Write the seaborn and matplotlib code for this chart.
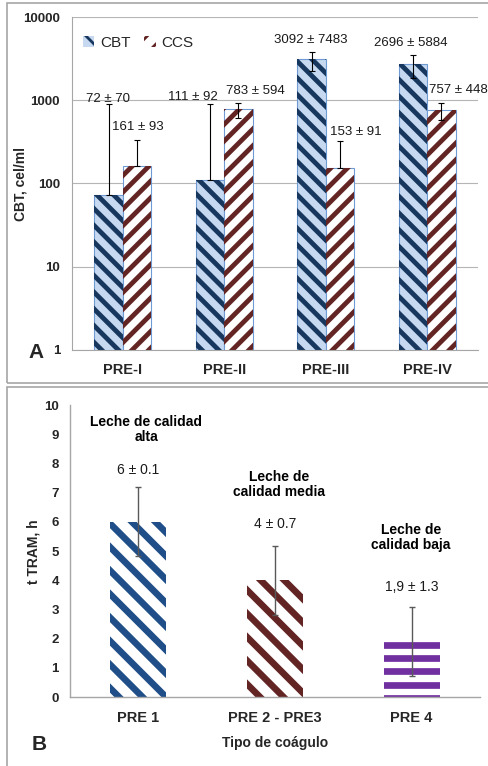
import numpy as np
import pandas as pd
import matplotlib
matplotlib.use('Agg')
import matplotlib.pyplot as plt
import seaborn as sns
from matplotlib import font_manager
from matplotlib.collections import LineCollection
from matplotlib.transforms import IdentityTransform, Bbox
from matplotlib.patches import Patch, Rectangle
from matplotlib.ticker import NullFormatter, NullLocator

# ---- panel A: recuentos por grupo ----
grupos = ['PRE-I', 'PRE-II', 'PRE-III', 'PRE-IV']
cbt = [72, 111, 3092, 2696]
ccs = [161, 783, 153, 757]
# extremos de las barras de error tal como se ven en la figura
cbt_lo = [72, 111, 2230, 1840]
cbt_hi = [900, 910, 3800, 3480]
ccs_lo = [161, 610, 153, 580]
ccs_hi = [330, 920, 320, 920]
cbt_txt = ['72 ± 70', '111 ± 92', '3092 ± 7483', '2696 ± 5884']
ccs_txt = ['161 ± 93', '783 ± 594', '153 ± 91', '757 ± 448']

# ---- panel B: tiempo de reduccion ----
coagulo = ['PRE 1', 'PRE 2 - PRE3', 'PRE 4']
tram = [6, 4, 1.9]
tram_err = [1.18, 1.18, 1.18]
tram_txt = ['6 ± 0.1', '4 ± 0.7', '1,9 ± 1.3']
calidad = ['Leche de calidad\nalta', 'Leche de\ncalidad media', 'Leche de\ncalidad baja']

# desplazamientos de las etiquetas (px)
cbt_off = [(-1, 5), (-17, 7), (-1, 12), (-2, 12)]
ccs_off = [(1, 13), (17, 12), (16, 9), (17, 13)]
tram_off = [17, 22, 20]
cal_off = [(8, 58), (4, 61), (-1, 70)]

sns.set_style('white')
plt.rcParams['font.family'] = ['Liberation Sans', 'DejaVu Sans']
plt.rcParams['hatch.linewidth'] = 2.0

nombres = {f.name for f in font_manager.fontManager.ttflist}
if 'Liberation Sans Narrow' in nombres:
    NARROW, NSIZE = ['Liberation Sans Narrow', 'Liberation Sans'], 11.5
else:
    NARROW, NSIZE = ['Liberation Sans', 'DejaVu Sans'], 10

W, H = 488, 766
fig = plt.figure(figsize=(W / 100, H / 100), dpi=100)


def rect(l, t, r, b):
    return [l / W, 1 - b / H, (r - l) / W, (b - t) / H]


def px(v):
    return v * 72 / fig.dpi


axA = fig.add_axes(rect(72, 17, 478, 350))
axB = fig.add_axes(rect(70, 405, 480, 697))

GRIS = '#a6a6a6'

# marcos de los paneles
fig.add_artist(Rectangle((7 / W, 1 - 383 / H), (W - 2) / W, 380 / H,
                         transform=fig.transFigure, fill=False, ec=GRIS, lw=1.2))
fig.add_artist(Rectangle((7 / W, -0.01), (W - 2) / W, 1 - 387 / H + 0.01,
                         transform=fig.transFigure, fill=False, ec=GRIS, lw=1.2))

# ================= panel A =================
df_a = pd.DataFrame({'grupo': grupos * 2, 'valor': cbt + ccs,
                     'serie': ['CBT'] * 4 + ['CCS'] * 4})
axA.set_yscale('log')
sns.barplot(data=df_a, x='grupo', y='valor', hue='serie', ax=axA,
            palette={'CBT': '#c6d9f1', 'CCS': 'white'}, saturation=1,
            width=0.56, errorbar=None, edgecolor='#6f9bd4', linewidth=0.8,
            legend=False)
axA.set_ylim(1, 10000)
axA.set_xlim(-0.5, 3.5)

series_a = [(axA.containers[0], cbt, cbt_lo, cbt_hi, cbt_txt, cbt_off),
            (axA.containers[1], ccs, ccs_lo, ccs_hi, ccs_txt, ccs_off)]
for cont, vals, lo, hi, txt, off in series_a:
    xs = [p.get_x() + p.get_width() / 2 for p in cont]
    v = np.array(vals, dtype=float)
    yerr = [v - np.array(lo), np.array(hi) - v]
    axA.errorbar(xs, v, yerr=yerr, fmt='none', ecolor='black',
                 elinewidth=0.8, capsize=2.1, capthick=0.8, zorder=3)
    for x, h, t, (dx, dy) in zip(xs, hi, txt, off):
        axA.annotate(t, xy=(x, h), xytext=(px(dx), px(dy)), textcoords='offset points',
                     ha='center', va='center', fontsize=9.5, color='#1a1a1a',
                     annotation_clip=False)

axA.set_yticks([1, 10, 100, 1000, 10000])
axA.set_yticklabels(['1', '10', '100', '1000', '10000'], fontweight='bold', fontsize=9.5)
axA.yaxis.set_minor_locator(NullLocator())
axA.set_xticks([-0.5, 0.5, 1.5, 2.5, 3.5])
axA.xaxis.set_major_formatter(NullFormatter())
axA.set_xticks(range(4), grupos, minor=True, fontweight='bold', fontsize=10.5)
axA.tick_params(axis='x', which='major', length=px(5), width=0.8, color=GRIS, direction='out')
axA.tick_params(axis='x', which='minor', length=0, pad=px(13))
axA.tick_params(axis='y', length=px(3), width=0.8, color=GRIS, pad=px(9), direction='out')
axA.yaxis.grid(True, color='#b5b5b5', lw=0.8)
axA.set_axisbelow(True)
axA.set_xlabel('')
axA.set_ylabel('')
for s in ['top', 'right']:
    axA.spines[s].set_visible(False)
for s in ['left', 'bottom']:
    axA.spines[s].set_color(GRIS)
    axA.spines[s].set_linewidth(0.8)

leg = axA.legend(handles=[Patch(facecolor='#c6d9f1', edgecolor='#17375e', hatch='\\\\', lw=0),
                          Patch(facecolor='white', edgecolor='#632523', hatch='//', lw=0)],
                 labels=['CBT', 'CCS'], loc='center left',
                 bbox_to_anchor=((83 - 72) / 406, 1 - (43 - 17) / 333),
                 ncol=2, frameon=False, fontsize=11, borderpad=0, borderaxespad=0,
                 handlelength=0.75, handleheight=0.75, handletextpad=0.35,
                 columnspacing=0.9)

fig.text(21 / W, 1 - 184 / H, 'CBT, cel/ml', rotation=90, ha='center', va='center',
         fontsize=10, fontweight='bold')
fig.text(28 / W, 1 - 358 / H, 'A', ha='left', va='baseline', fontsize=15, fontweight='bold')

# ================= panel B =================
df_b = pd.DataFrame({'tipo': coagulo, 'tram': tram})
sns.barplot(data=df_b, x='tipo', y='tram', ax=axB, color='white', saturation=1,
            width=0.41, errorbar=None, linewidth=0)
axB.set_ylim(0, 10)
axB.set_xlim(-0.5, 2.5)
xs_b = [p.get_x() + p.get_width() / 2 for p in axB.containers[0]]
axB.errorbar(xs_b, tram, yerr=tram_err, fmt='none', ecolor='#595959',
             elinewidth=1, capsize=2.2, capthick=1, zorder=3)
for x, v, e, t, dy in zip(xs_b, tram, tram_err, tram_txt, tram_off):
    axB.annotate(t, xy=(x, v + e), xytext=(0, px(dy)), textcoords='offset points',
                 ha='center', va='center', fontsize=10, color='#1a1a1a')
for x, v, e, t, (dx, dy) in zip(xs_b, tram, tram_err, calidad, cal_off):
    axB.annotate(t, xy=(x, v + e), xytext=(px(dx), px(dy)), textcoords='offset points',
                 ha='center', va='center', fontsize=NSIZE, fontweight='bold',
                 family=NARROW, linespacing=1.1, color='black')

axB.set_yticks(range(0, 11))
axB.set_yticklabels([str(i) for i in range(0, 11)], fontweight='bold', fontsize=9.5)
axB.set_xticks([-0.5, 0.5, 1.5, 2.5])
axB.xaxis.set_major_formatter(NullFormatter())
axB.set_xticks(range(3), coagulo, minor=True, fontweight='bold', fontsize=10.5)
axB.tick_params(axis='x', which='major', length=px(5), width=0.8, color=GRIS, direction='out')
axB.tick_params(axis='x', which='minor', length=0, pad=px(14))
axB.tick_params(axis='y', length=px(4), width=0.8, color=GRIS, pad=px(7), direction='out')
axB.set_xlabel('')
axB.set_ylabel('')
for s in ['top', 'right']:
    axB.spines[s].set_visible(False)
for s in ['left', 'bottom']:
    axB.spines[s].set_color(GRIS)
    axB.spines[s].set_linewidth(1.0)

fig.text(33 / W, 1 - 552 / H, 't TRAM, h', rotation=90, ha='center', va='center',
         fontsize=10, fontweight='bold')
fig.text(275 / W, 1 - 747 / H, 'Tipo de coágulo', ha='center', va='baseline',
         fontsize=NSIZE, fontweight='bold', family=NARROW)
fig.text(32 / W, 1 - 750 / H, 'B', ha='left', va='baseline', fontsize=15, fontweight='bold')

# ---- rayado de las barras (tramas tipo Excel) ----
fig.canvas.draw()


def rayado(ax, barra, color, paso, grosor, tipo):
    caja = Bbox.intersection(barra.get_window_extent(), ax.bbox)
    x0, y0, x1, y1 = caja.extents
    m = paso * 2
    segs = []
    if tipo == 'h':
        c = y1 - grosor / 2
        while c > y0 - grosor:
            segs.append([(x0 - 2, c), (x1 + 2, c)])
            c -= paso
    elif tipo == '\\':
        for c in np.arange(np.floor((x0 + y0) / paso) * paso, x1 + y1 + paso, paso):
            segs.append([(c - y1 - m, y1 + m), (c - y0 + m, y0 - m)])
    else:
        for c in np.arange(np.floor((y0 - x1) / paso) * paso, y1 - x0 + paso, paso):
            segs.append([(x0 - m, x0 - m + c), (x1 + m, x1 + m + c)])
    lc = LineCollection(segs, colors=color, linewidths=px(grosor),
                        transform=IdentityTransform(), capstyle='butt', zorder=1.5)
    ax.add_collection(lc, autolim=False)
    lc.set_clip_path(None)
    lc.set_clip_box(caja)


for p in axA.containers[0]:
    rayado(axA, p, '#17375e', 16.7, 4.8, '\\')
for p in axA.containers[1]:
    rayado(axA, p, '#632523', 16.7, 4.8, '/')
estilos_b = [('#1f4e89', 23.5, 6.6, '\\'), ('#632523', 23.5, 6.6, '\\'), ('#7030a0', 13.3, 6.7, 'h')]
for p, (col, paso, gr, tipo) in zip(axB.containers[0], estilos_b):
    rayado(axB, p, col, paso, gr, tipo)

fig.savefig('out.png', dpi=100)
